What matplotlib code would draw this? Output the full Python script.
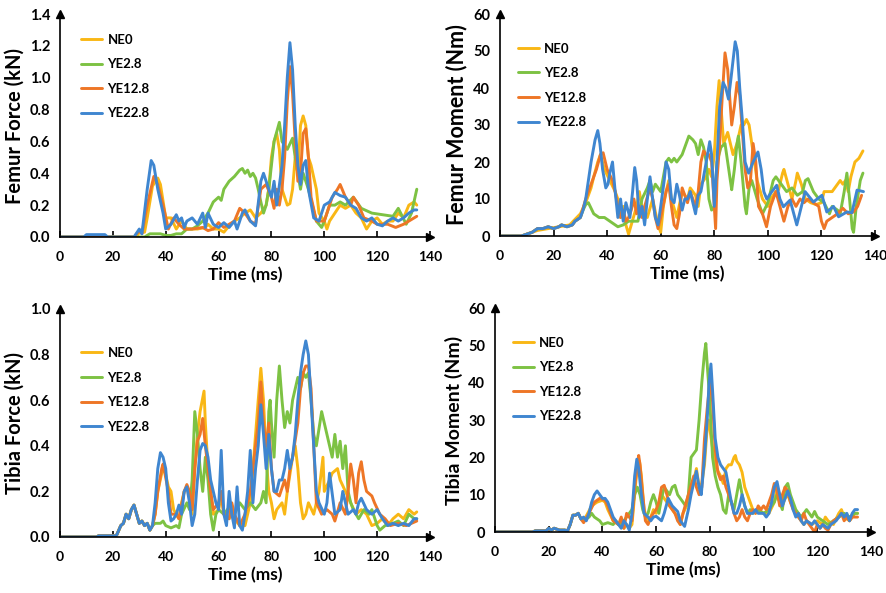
import matplotlib
matplotlib.use("Agg")
import matplotlib.pyplot as plt

plt.rcParams['font.family'] = ['Lato', 'DejaVu Sans']
plt.rcParams['font.weight'] = 'bold'

SERIES = ["NE0", "YE2.8", "YE12.8", "YE22.8"]
COLORS = ["#F9B715", "#7DC243", "#EE7626", "#3F86D0"]
X_TICKS = [0, 20, 40, 60, 80, 100, 120, 140]

# ---------------- Femur Force (kN) ----------------
FF_NE0 = [(0,0),(29,0),(30,.03),(32,.03),(33,.12),(35,.32),(37,.37),(38,.33),(40,.12),(42,.12),(44,.05),(46,.10),(48,.05),(52,.05),(55,.06),(56,.08),(58,.05),(60,.05),(62,.03),(64,.07),(66,.10),(68,.12),(70,.15),(72,.17),(74,.12),(76,.15),(78,.20),(79,.30),(80,.50),(81,.60),(82,.65),(83,.55),(84,.30),(86,.20),(87,.21),(88,.30),(89,.50),(90,.40),(91,.70),(92,.76),(93,.70),(94,.50),(95,.45),(97,.30),(98,.15),(100,.10),(101,.05),(102,.10),(104,.15),(106,.20),(108,.18),(110,.20),(112,.15),(114,.12),(116,.05),(118,.10),(120,.12),(122,.08),(124,.10),(126,.10),(128,.15),(130,.12),(132,.20),(134,.22),(135,.20)]
FF_YE2 = [(0,0),(32,0),(34,.02),(36,.02),(38,.02),(40,.01),(42,.01),(44,.02),(46,.02),(48,.05),(50,.05),(52,.07),(54,.10),(56,.15),(58,.22),(60,.25),(61,.23),(62,.30),(64,.35),(66,.38),(68,.42),(69,.43),(70,.40),(71,.42),(72,.38),(73,.40),(74,.37),(75,.30),(76,.22),(77,.15),(78,.20),(79,.30),(80,.45),(81,.60),(83,.72),(84,.60),(86,.55),(88,.62),(89,.50),(91,.30),(92,.40),(94,.30),(97,.10),(99,.06),(100,.10),(102,.20),(104,.20),(106,.22),(108,.20),(111,.25),(114,.18),(118,.15),(122,.14),(126,.13),(128,.18),(131,.08),(133,.15),(135,.30)]
FF_YE12 = [(0,0),(28,0),(30,.04),(31,.02),(33,.20),(35.5,.38),(37,.33),(39,.20),(41,.05),(43,.12),(45,.08),(47,.05),(50,.05),(54,.06),(56,.04),(58,.05),(60,.09),(62,.06),(64,.08),(66,.10),(68,.18),(70,.15),(72,.10),(74,.08),(76,.30),(78,.33),(80,.25),(81,.18),(82,.30),(83,.20),(84,.30),(85,.50),(86,.85),(87,1.07),(88,.90),(89,.60),(90,.35),(91,.40),(92,.65),(93,.68),(94,.50),(95,.25),(97,.10),(100,.10),(101,.15),(103,.25),(105,.30),(106,.33),(108,.25),(110,.20),(111,.25),(113,.20),(115,.12),(118,.10),(120,.08),(124,.08),(127,.06),(130,.08),(132,.10),(135,.13)]
FF_YE22 = [(0,0),(9,0),(10,.015),(17,.015),(18,0),(28,0),(30,.05),(31,.02),(33,.30),(34.5,.48),(35.5,.45),(37,.30),(39,.15),(40,.05),(42,.08),(44,.14),(45,.10),(46,.12),(47,.06),(48,.10),(50,.12),(52,.08),(54,.15),(55,.06),(56,.15),(58,.08),(60,.06),(62,.09),(64,.06),(66,.10),(67,.05),(69,.15),(70,.17),(72,.10),(74,.07),(76,.35),(77,.40),(78,.35),(79,.30),(80,.25),(81,.35),(82,.20),(84,.45),(85,.70),(86,1.00),(87,1.22),(88,1.05),(89,.70),(90,.45),(91,.33),(92,.45),(93,.48),(94,.30),(96,.12),(98,.10),(100,.20),(102,.22),(104,.28),(106,.26),(108,.25),(110,.20),(112,.18),(114,.12),(116,.10),(118,.12),(120,.08),(122,.07),(124,.10),(126,.12),(128,.10),(130,.12),(132,.15),(134,.17),(135,.17)]

# ---------------- Femur Moment (Nm) ----------------
FM_NE0 = [(0,0),(8,0),(10,.5),(14,1.5),(18,2),(22,2.5),(26,3),(28,4.5),(30,6),(32,9),(34,13),(35,16),(36.5,20),(37.5,22),(39,18),(41,15),(43,12),(44,10),(45,5),(46,8),(47,3),(48,.5),(49,3),(51,8),(52,12),(53,8),(55,5),(57,10),(59,3),(60,1),(61,8),(62,12),(63,15),(64,10),(66,5),(68,12),(70,10),(71,13),(73,11),(74,8),(75,14),(77,16),(78,18),(79,16),(80,22),(81,35),(81.8,42),(82.5,35),(83.5,25),(85,28),(86,25),(87,22),(88.5,25),(90,30),(91,30),(92,31.5),(93,30),(94,25),(96,15),(98,10),(100,8),(101,10),(103,12),(104,12.5),(105.5,17),(106,18),(107.5,14),(109,10),(110.5,15),(111,17),(112.5,14),(114,10),(116,9),(118,8.5),(120,9),(121,12),(124,12),(125,13),(127,15),(128,14),(129,15),(130,12),(131,16),(132.5,20),(134,21),(135.5,23)]
FM_YE2 = [(0,0),(8,0),(10,.5),(12,1),(14,2),(16,2),(18,2.5),(20,2),(22,2.5),(23,3),(25,2.5),(27,3),(28,4),(30,5),(31,7),(32,8.5),(33,9),(35,6),(37,5),(39,5),(41,4),(43,3),(44,2.5),(46,3),(48,4),(50,4),(51.5,4),(53,10),(55,13),(56,15),(57,12),(58,14),(59,13),(60,12),(61,16),(62,20),(63,21),(64,20),(65,21),(66,20),(67,21),(68,22),(69,24),(70.5,27),(72,26),(73,25),(74,22),(75,26),(76,24),(77,20),(78,10),(79,7),(80,8),(81,20),(82.5,24),(84,25),(85,20),(86,15),(86.5,12.5),(87.5,18),(88.5,25),(89,27),(90,20),(91.5,8),(92,6),(93,13),(94,15),(96,10),(98,6),(100,9),(102,15),(103,16),(105,14),(107,12),(109,13),(111,11),(113,12),(114,15),(115,15.5),(117,12),(119,10),(121,9),(123,6),(124,8),(126,7),(127,6),(128.5,12),(129.5,17),(130.5,10),(131.5,2),(132,1),(133,8),(134.5,15),(135.5,17)]
FM_YE12 = [(0,0),(8,0),(10,.5),(12,1),(14,2),(16,2),(18,2.5),(20,2),(22,2.5),(23,3),(25,2.5),(27,3),(28,4),(30,5),(32,10),(34,14),(36,18),(37.5,22),(38.5,22.5),(40,18),(42,15),(43,12),(44,8),(45,5),(46,7),(47,4),(48,5),(49,7),(50,10),(51,6),(52,8),(53,5),(54,8),(56,13),(57,10),(58,5),(59,2),(60,5),(62,12),(63,14),(64,8),(65,3),(66,2),(67,6),(68,13),(69,11),(70,9),(71,12),(72,10),(73,8),(74,12),(75,20),(76,23),(77,22),(78,22),(79,20),(80.5,2),(81,15),(82,25),(83,38),(84,49.5),(85,45),(86,35),(86.5,30),(87.5,35),(88.5,41.5),(89.5,38),(90.5,28),(91.5,18),(92.5,13),(93.5,15),(94.5,25),(95.5,20),(96.5,8),(98,6),(99.5,2.5),(101,8),(102,10),(103,12),(104.5,8),(106,4),(107.5,8),(109,10),(110.5,8),(112,10),(113.5,9),(115,10),(117,9),(119,8),(120,4),(121,2),(122,4),(124,5),(126,6),(128,7.5),(130,6),(132,6.5),(133.5,8),(135,11)]
FM_YE22 = [(0,0),(8,0),(10,.5),(12,1),(14,2),(16,2),(18,2.5),(20,2),(22,2.5),(23,3),(25,2.5),(27,3),(28,4),(30,5),(31,7),(32,10),(33,15),(34,20),(35.5,26),(36.5,28.5),(37.3,25),(38.3,18),(39.5,13),(40.3,14),(41,17),(42,20),(43,12),(44,5),(45,10),(46,4),(47,9),(48.5,5),(49.5,12),(50.3,18.5),(51,15),(52,5),(53,8),(54,3),(55,10),(56,16),(57,10),(58,5),(59,3),(60,8),(61.3,15),(62,20),(63,18),(64,10),(65,9),(66,14),(67,11),(68,7),(69,10),(70,10),(71,12),(72,9),(73,6),(74,11),(75,12),(77,20),(78.3,25.5),(79,22),(80,8),(81,20),(82,35),(83.3,41.5),(84.3,40),(85.3,37),(86.3,43),(87.8,52.5),(88.6,50),(89.5,40),(90.5,31),(91.5,20),(92.8,17),(94.5,20),(96.3,22.7),(97.5,18),(98.5,12),(99.6,10),(101.5,12),(103.3,13.7),(104.5,10),(105.8,7.9),(108.3,9.7),(110.8,3),(113.9,12),(117,9.2),(120.2,11),(122,6.5),(124.5,8),(126.4,5.2),(129.5,6.5),(131.4,6.3),(133.3,12.4),(135.7,12)]

# ---------------- Tibia Force (kN) ----------------
TF_BASE = [(0,0),(14,0),(14.5,.005),(21,.005),(21.5,.01),(23,.05),(24,.06),(25,.10),(26,.08),(27,.12),(28,.14),(29,.10),(30,.06),(31,.07),(32,.05),(33,.06),(34,.03),(35,.05)]
TF_NE0 = TF_BASE + [(36,.10),(37,.2),(38.5,.28),(39.5,.30),(41,.22),(42,.20),(43,.12),(44,.10),(45,.08),(46,.15),(47,.20),(48,.22),(49,.18),(50,.10),(51,.30),(52,.45),(53,.55),(54.5,.64),(55,.50),(56,.30),(57,.20),(58,.10),(60,.12),(61,.18),(62,.10),(64,.08),(65,.12),(66,.08),(68,.05),(70,.05),(72,.15),(74,.45),(75,.60),(76,.74),(77,.60),(78,.35),(79,.20),(80,.15),(81,.08),(82,.12),(84,.15),(85,.10),(86,.20),(88,.35),(89,.40),(90,.30),(91,.15),(92,.08),(93,.10),(94,.15),(96,.10),(98,.20),(99.5,.35),(100,.20),(102,.25),(103,.28),(105,.30),(106,.25),(108,.20),(110,.15),(112,.10),(114,.12),(116,.10),(118,.05),(120,.06),(122,.08),(124,.05),(126,.08),(128,.10),(130,.08),(132,.12),(134,.10),(135,.11)]
TF_YE2 = TF_BASE + [(36,.06),(38,.06),(39,.07),(40,.05),(42,.04),(44,.05),(45,.04),(46,.10),(48,.15),(49,.12),(50,.25),(51,.55),(52,.45),(53,.30),(54,.20),(55,.35),(56,.25),(57,.10),(58,.03),(59,.10),(60,.12),(62,.10),(64,.13),(66,.10),(68,.15),(70,.12),(72,.15),(74,.12),(76,.15),(77,.20),(78,.15),(79,.55),(79.5,.60),(80,.50),(81,.35),(82,.60),(83,.75),(84,.60),(85,.48),(86,.55),(87,.50),(88,.60),(89,.65),(90,.70),(91,.65),(92,.72),(93,.70),(94,.72),(95,.60),(96,.45),(97,.40),(99,.55),(100,.50),(102,.40),(103,.35),(104,.45),(105,.35),(106,.42),(107,.30),(108,.40),(109,.20),(110,.15),(111,.12),(112,.10),(113,.08),(115,.12),(117,.10),(118,.12),(120,.05),(121,.03),(123,.05),(126,.06),(128,.07),(130,.05),(132,.10),(134,.08),(135,.08)]
TF_YE12 = TF_BASE + [(36,.10),(37,.20),(38.5,.30),(39,.32),(41,.20),(42,.10),(44,.10),(45,.08),(47,.20),(48,.23),(49,.20),(50,.12),(51,.30),(52,.42),(53,.45),(54,.52),(55,.40),(56,.30),(57,.20),(58,.12),(60,.15),(61,.20),(62,.10),(64,.08),(65,.15),(66,.10),(68,.05),(70,.10),(72,.20),(74,.40),(75,.50),(76,.68),(77,.50),(78,.40),(79,.50),(80,.30),(81,.20),(83,.18),(85,.25),(86,.20),(87,.30),(88,.35),(90,.50),(91,.65),(92,.72),(93,.75),(94,.75),(95,.65),(96,.40),(97,.15),(99,.10),(101,.12),(103,.10),(104,.07),(106,.15),(108,.10),(109,.20),(110,.32),(111,.25),(112,.15),(113,.28),(114,.33),(115,.25),(116,.20),(118,.18),(119,.15),(121,.10),(123,.08),(125,.05),(128,.06),(131,.05),(133,.06),(135,.07)]
TF_YE22 = TF_BASE + [(36,.15),(37,.30),(38,.37),(39,.35),(40,.30),(41,.15),(42,.07),(43,.08),(44,.10),(45,.14),(46,.10),(47,.20),(48,.22),(49,.15),(50,.05),(51,.10),(52,.25),(53,.38),(54,.41),(55,.40),(56,.35),(57,.25),(58,.20),(59,.15),(60,.12),(61,.38),(62,.10),(63,.05),(64,.20),(65,.10),(66,.04),(67,.22),(68,.05),(69,.03),(70,.10),(71,.20),(72,.38),(73,.15),(74,.30),(75,.40),(76,.58),(77,.45),(78,.30),(79,.45),(80,.30),(81,.20),(82,.20),(83,.25),(84,.25),(85,.30),(86,.38),(87,.30),(88,.35),(89,.45),(90,.60),(91,.72),(92,.80),(93,.86),(94,.80),(95,.60),(96,.40),(97,.20),(98,.15),(100,.10),(101,.15),(102,.28),(104,.10),(106,.12),(107,.20),(109,.10),(111,.12),(112,.10),(113,.15),(114,.17),(116,.12),(118,.10),(120,.12),(122,.08),(124,.05),(126,.06),(128,.05),(130,.06),(132,.05),(134,.08),(135,.08)]

# ---------------- Tibia Moment (Nm) ----------------
TM_BASE = [(0,0),(14,0),(15,.3),(19,.3),(20,1),(21,.5),(22,1),(24,.5),(26,.5),(27,.3),(28,2),(29,4.5),(30,4.5),(31,5),(32,3.5)]
TM_NE0 = TM_BASE + [(33,3),(36,7),(38,8),(40,8.5),(41,8),(42,6),(44,3),(46,2),(48,1),(49,2),(50,1),(51,2),(52,10),(53,18),(53.8,19),(54.5,15),(55.5,6),(57,3),(58,4),(59,6),(60,5),(61,7),(62,10),(64,8),(66,6),(68,4),(69,2),(70,5),(72,8),(74,14),(75,17),(76,12),(77,13),(78,18),(79,28),(79.5,30),(80.5,25),(81.5,20),(82.5,17),(84,15),(85,13),(86,17),(87,18),(88,18),(89,20),(89.5,20.5),(90,19),(91,18),(92,16),(93,12),(94,10),(95,8),(96,6),(97,5),(98,6),(100,5),(102,5),(104,8),(105,12),(106,10),(107,7),(108,9),(109,10),(110,8),(112,5),(114,3),(115,2),(116,3),(118,2),(120,3),(122,2),(123,4),(124,3),(126,2),(128,5),(129,6),(130,4),(132,3),(134,5),(135,5)]
TM_YE2 = TM_BASE + [(33,3),(35,4),(36,5),(37,4),(39,3),(40,2),(42,2.5),(44,2),(45,3),(46,2),(48,3),(49,4),(50,5),(51,6),(52,10),(53,12),(54,10),(55,6),(56,4),(57,5),(58,8),(59,10),(60,8),(61,5),(62,9),(63,12),(64,11),(65,10),(66,12),(67,12.5),(68,10),(69,9),(70,8),(71,7),(72,10),(73,20),(74,21),(75,22),(76,30),(77,40),(78,48),(78.5,50.5),(79,45),(80,35),(81,20),(82,15),(83,12),(84,10),(85,6),(86,5),(87,10),(88,8),(89,6),(90,10),(91,14),(92,10),(93,7),(94,5),(95,6),(96,5),(98,6),(100,5),(102,6),(104,8),(105,10),(106,8),(107,6),(108,12),(109,13),(110,10),(111,8),(112,6),(114,4),(116,6),(117,5),(118,4),(119,5.5),(120,4),(122,3),(124,2),(126,3),(128,4),(130,5),(132,4),(134,5),(135,5)]
TM_YE12 = TM_BASE + [(33,2.5),(35,5),(37,8),(39,9),(41,8.5),(42,7),(44,3),(46,2),(47,4),(48,1),(49,5),(50,4),(51,3),(52,12),(53.5,20.5),(54,18),(55,10),(56,3),(57,2),(58,4),(59,5),(60,6),(61,8),(62,12),(63,12.5),(64,10),(65,7),(66,6),(67,5),(68,3),(69,2),(70,5),(72,10),(74,15),(75,12),(76,10),(77,12),(78,25),(79,33),(80,40),(81,35),(82,22),(83,16),(84,14),(85,15),(86,12),(87,10),(88,8),(89,5),(90,3),(91,4),(92,6),(93,4),(94,3),(95,5),(96,6),(97,5),(98,7),(99,6),(100,7),(101,6),(102,8),(103,10),(104,13),(105,11),(106,7),(107,10),(108,12),(109,11),(110,8),(111,6),(112,5),(113,4),(114,3),(115,5),(116,3),(117,2),(118,1),(119,0),(120,2),(121,1),(122,2),(123,1),(124,.5),(125,2),(126,3),(128,4),(129,5),(130,3),(131,4),(132,3),(133,4),(135,4)]
TM_YE22 = TM_BASE + [(33,4),(34,3),(35,5),(36,8),(37,10),(38,11),(39,10),(40,9),(41,9),(42,8),(43,6),(44,4),(45,3),(46,2),(47,1),(48,3),(49,2),(50,.5),(51,5),(52,15),(52.8,19.5),(53.5,17),(54.5,10),(55.5,5),(57,4),(58,3),(59,4),(60,4.2),(62,3),(63,5),(64.5,9),(66,7),(68,5.5),(69,3),(70.6,1.5),(72,6),(73,10),(75,16.3),(76,12),(76.8,10),(78,20),(79,30),(79.7,40),(80.4,45),(81,38),(82,25),(83,20),(84,18),(85,17),(86,16),(87,12),(88,8),(89,5),(90,5),(91,7),(92,10),(93,7),(94,5),(96,5),(97,6),(98,5),(100,5),(101,4),(102,5),(103,8),(104,12),(105,13.5),(106,10),(107,7),(108,9),(109,11),(110,9),(111,6),(112,4),(113,5),(114,3),(115,2),(116,3),(118,2),(119,3),(120,2),(121,1),(122,2),(124,1),(125,2),(127,3),(129,5),(130,4),(131,5),(132,3),(133,5),(134,6),(135,6)]

PANELS = [
    dict(data=[FF_NE0, FF_YE2, FF_YE12, FF_YE22], ylabel="Femur Force (kN)", ysize=14.5,
         yticks=[0, .2, .4, .6, .8, 1.0, 1.2, 1.4], yfmt="{:.1f}",
         rect=[60/886, 1-237/593, 370/886, 223/593], leg=(0.025, 0.965)),
    dict(data=[FM_NE0, FM_YE2, FM_YE12, FM_YE22], ylabel="Femur Moment (Nm)", ysize=15.5,
         yticks=[0, 10, 20, 30, 40, 50, 60], yfmt="{:.0f}",
         rect=[500/886, 1-236/593, 375/886, 222/593], leg=(0.015, 0.925)),
    dict(data=[TF_NE0, TF_YE2, TF_YE12, TF_YE22], ylabel="Tibia Force (kN)", ysize=14.5,
         yticks=[0, .2, .4, .6, .8, 1.0], yfmt="{:.1f}",
         rect=[60/886, 1-537/593, 370/886, 228/593], leg=(0.025, 0.885)),
    dict(data=[TM_NE0, TM_YE2, TM_YE12, TM_YE22], ylabel="Tibia Moment (Nm)", ysize=14,
         yticks=[0, 10, 20, 30, 40, 50, 60], yfmt="{:.0f}",
         rect=[495/886, 1-532/593, 376/886, 224/593], leg=(0.015, 0.925)),
]

fig = plt.figure(figsize=(8.86, 5.93), dpi=100)
for p in PANELS:
    ax = fig.add_axes(p["rect"])
    for name, col, ser in zip(SERIES, COLORS, p["data"]):
        xs = [a for a, b in ser]
        ys = [b for a, b in ser]
        ax.plot(xs, ys, color=col, lw=2.1, label=name,
                solid_joinstyle='round', solid_capstyle='round')
    ax.set_xlim(0, 140)
    ax.set_ylim(0, p["yticks"][-1])
    ax.set_xticks(X_TICKS)
    ax.set_xticklabels([str(v) for v in X_TICKS], fontsize=10, fontweight='bold')
    ax.set_yticks(p["yticks"])
    ax.set_yticklabels([p["yfmt"].format(v) for v in p["yticks"]], fontsize=10.5, fontweight='bold')
    ax.tick_params(axis='x', direction='in', length=4, width=1.2, pad=10)
    ax.tick_params(axis='y', length=0, pad=7)
    for s in ['top', 'right']:
        ax.spines[s].set_visible(False)
    for s in ['left', 'bottom']:
        ax.spines[s].set_linewidth(1.2)
        ax.spines[s].set_color('black')
    ax.plot(1, 0, '>k', transform=ax.transAxes, clip_on=False, ms=6)
    ax.plot(0, 1, '^k', transform=ax.transAxes, clip_on=False, ms=6)
    ax.set_xlabel("Time (ms)", fontsize=12.5, fontweight='bold', labelpad=3)
    ax.set_ylabel(p["ylabel"], fontsize=p["ysize"], fontweight='bold', labelpad=4)
    ax.legend(loc='upper left', bbox_to_anchor=p["leg"], frameon=False,
              handlelength=1.6, labelspacing=0.95, handletextpad=0.4,
              prop=dict(size=9.5, weight='bold'))
fig.savefig("out.png", dpi=100)
